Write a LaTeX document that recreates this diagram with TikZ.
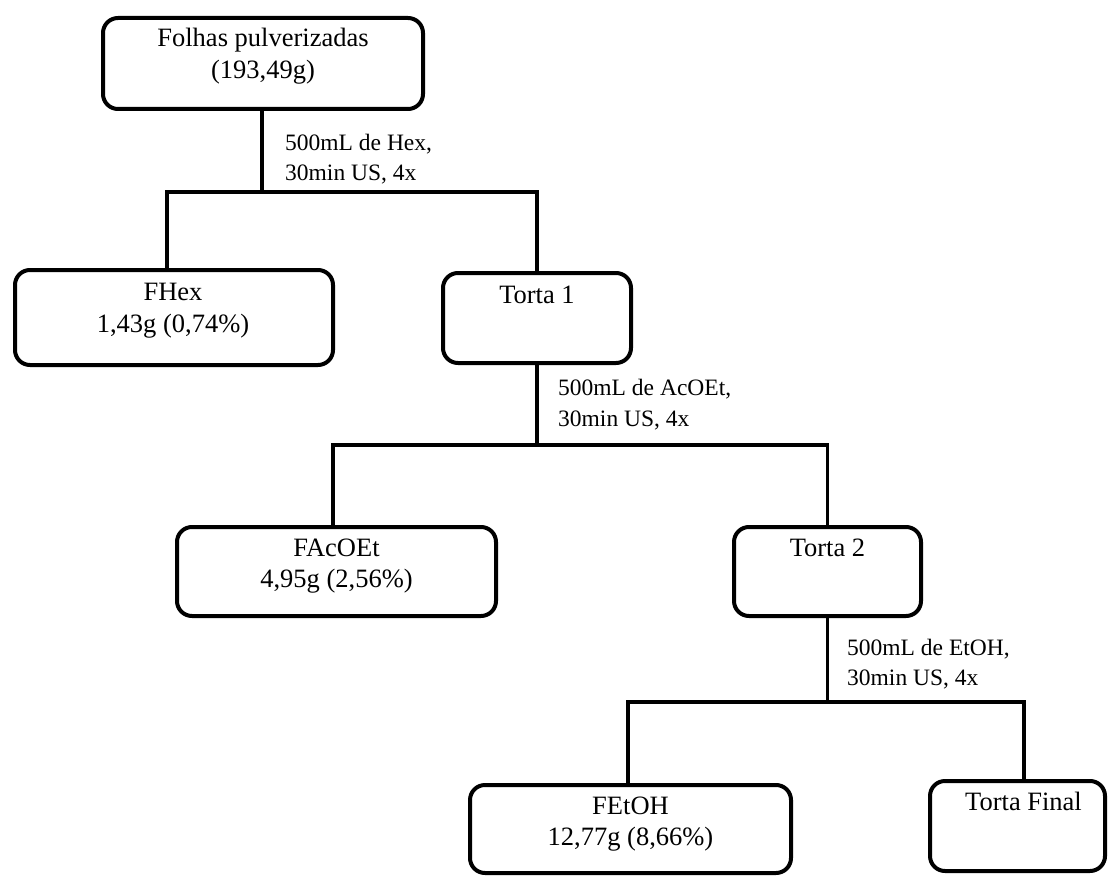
\documentclass[tikz,border=0pt]{standalone}
\usepackage{fontspec}
\setmainfont{Liberation Serif}
\usetikzlibrary{calc}
\tikzset{
  box/.style={draw, line width=4pt, rounded corners=15pt, inner sep=0pt},
  boxtxt/.style={anchor=base, inner sep=0pt, font=\fontsize{26.5}{31}\selectfont},
  lbl/.style={anchor=base west, inner sep=0pt, font=\fontsize{23.5}{30}\selectfont},
  conn/.style={line width=3.5pt}
}
\begin{document}
\begin{tikzpicture}[x=1pt,y=-1pt]
\useasboundingbox (0,0) rectangle (1110,877);
% boxes
\node[box, minimum width=320pt, minimum height=91pt] (top) at (263,63.5) {};
\node[box, minimum width=318pt, minimum height=95pt] (fhex) at (174,317.5) {};
\node[box, minimum width=188pt, minimum height=90pt] (torta1) at (537,318) {};
\node[box, minimum width=319pt, minimum height=89pt] (facoet) at (336.5,571.5) {};
\node[box, minimum width=187pt, minimum height=89pt] (torta2) at (827.5,571.5) {};
\node[box, minimum width=321pt, minimum height=88pt] (fetoh) at (630.5,829) {};
\node[box, minimum width=175pt, minimum height=90pt] (tortaf) at (1017.5,826) {};
% box texts
\node[boxtxt] (topA) at ($(top.north)+(0,31)$) {Folhas pulverizadas};
\node[boxtxt] (topB) at ($(top.north)+(0,63)$) {(193,49g)};
\node[boxtxt] (fhexA) at ($(fhex.north)+(-1,32)$) {FHex};
\node[boxtxt] (fhexB) at ($(fhex.north)+(-1,64)$) {1,43g (0,74\%)};
\node[boxtxt] (torta1A) at ($(torta1.north)+(0,32)$) {Torta 1};
\node[boxtxt] (facoetA) at ($(facoet.north)+(0,31)$) {FAcOEt};
\node[boxtxt] (facoetB) at ($(facoet.north)+(0,62)$) {4,95g (2,56\%)};
\node[boxtxt] (torta2A) at ($(torta2.north)+(0,31)$) {Torta 2};
\node[boxtxt] (fetohA) at ($(fetoh.north)+(0,31)$) {FEtOH};
\node[boxtxt] (fetohB) at ($(fetoh.north)+(0,62)$) {12,77g (8,66\%)};
\node[boxtxt] (tortafA) at ($(tortaf.north)+(6,31)$) {Torta Final};
% junctions
\coordinate (j1) at (262,192);
\coordinate (j2) at (537,445);
\coordinate (j3) at (827.5,702);
% connectors level 1
\draw[conn] (top.south -| j1) -- (j1);
\draw[conn] ([xshift=-7pt]fhex.north) |- (torta1.north |- j1) -- (torta1.north);
% connectors level 2
\draw[conn] (torta1.south) -- (j2);
\draw[conn] ([xshift=-3.5pt]facoet.north) |- (torta2.north |- j2) -- (torta2.north);
% connectors level 3
\draw[conn] (torta2.south) -- (j3);
\draw[conn] ([xshift=-2.5pt]fetoh.north) |- ($(tortaf.north |- j3)+(6.5,0)$) -- ([xshift=6.5pt]tortaf.north);
% labels
\node[lbl] (l1a) at (285,151) {500mL de Hex,};
\node[lbl] (l1b) at (285,181) {30min US, 4x};
\node[lbl] (l2a) at (558,395) {500mL de AcOEt,};
\node[lbl] (l2b) at (558,426) {30min US, 4x};
\node[lbl] (l3a) at (847,655) {500mL de EtOH,};
\node[lbl] (l3b) at (847,685) {30min US, 4x};
\end{tikzpicture}
\end{document}
